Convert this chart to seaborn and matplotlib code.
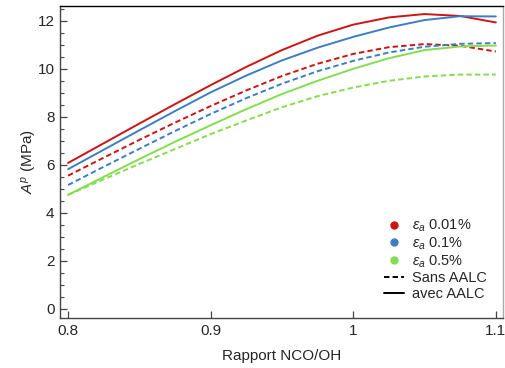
import matplotlib
matplotlib.use("Agg")
import matplotlib.pyplot as plt
import seaborn as sns
import pandas as pd
from matplotlib.lines import Line2D
from matplotlib.ticker import MultipleLocator

# ---- data ----
ratio = [0.800, 0.825, 0.850, 0.875, 0.900, 0.925, 0.950, 0.975, 1.000, 1.025, 1.050, 1.075, 1.100]

red_avec  = [6.08, 6.90, 7.72, 8.53, 9.32, 10.08, 10.78, 11.38, 11.84, 12.14, 12.28, 12.20, 11.93]
blue_avec = [5.82, 6.63, 7.44, 8.24, 9.02, 9.72, 10.35, 10.88, 11.33, 11.72, 12.03, 12.19, 12.18]
green_avec = [4.75, 5.50, 6.24, 6.96, 7.65, 8.32, 8.95, 9.50, 10.00, 10.44, 10.78, 10.93, 10.97]

red_sans  = [5.55, 6.30, 7.04, 7.76, 8.45, 9.10, 9.70, 10.21, 10.62, 10.90, 11.03, 10.96, 10.72]
blue_sans = [5.16, 5.92, 6.67, 7.41, 8.12, 8.78, 9.38, 9.90, 10.33, 10.68, 10.92, 11.04, 11.07]
green_sans = [4.75, 5.40, 6.04, 6.66, 7.28, 7.85, 8.40, 8.86, 9.22, 9.50, 9.68, 9.76, 9.76]

strains = ["0.01%", "0.1%", "0.5%"]
conditions = ["Sans AALC", "avec AALC"]
xticks = [0.8, 0.9, 1.0, 1.1]
xtick_labels = ["0.8", "0.9", "1", "1.1"]

colors = {"0.01%": "#CC1414", "0.1%": "#3D7EC2", "0.5%": "#84DC50"}

series = {
    ("0.01%", "avec AALC"): red_avec,
    ("0.1%", "avec AALC"): blue_avec,
    ("0.5%", "avec AALC"): green_avec,
    ("0.01%", "Sans AALC"): red_sans,
    ("0.1%", "Sans AALC"): blue_sans,
    ("0.5%", "Sans AALC"): green_sans,
}

rows = []
for (s, c), vals in series.items():
    for x, v in zip(ratio, vals):
        rows.append({"ratio": x, "A": v, "strain": s, "cond": c})
df = pd.DataFrame(rows)

# ---- style ----
sns.set_theme(style="ticks")
plt.rcParams["font.family"] = ["Liberation Sans", "DejaVu Sans"]
plt.rcParams["mathtext.fontset"] = "custom"
plt.rcParams["mathtext.rm"] = "Liberation Sans"
plt.rcParams["mathtext.it"] = "Liberation Sans:italic"

fig = plt.figure(figsize=(5.05, 3.68), dpi=100)
ax = fig.add_axes([0.119, 0.136, 0.877, 0.848])

sns.lineplot(data=df, x="ratio", y="A", hue="strain", style="cond",
             hue_order=strains, style_order=conditions,
             palette=colors,
             dashes={"Sans AALC": (2.8, 1.6), "avec AALC": ""},
             linewidth=1.4, ax=ax, legend=False, sort=True)

ax.set_xlim(0.7944, 1.105)
ax.set_ylim(-0.375, 12.62)
ax.set_xticks(xticks)
ax.set_xticklabels(xtick_labels)
ax.yaxis.set_major_locator(MultipleLocator(2))
ax.yaxis.set_minor_locator(MultipleLocator(0.5))
ax.tick_params(axis="both", which="major", direction="in", length=5,
               width=0.9, color="#444444", labelsize=11, pad=4)
ax.tick_params(axis="y", which="minor", direction="in", length=3,
               width=0.8, color="#444444")
ax.set_xlabel("Rapport NCO/OH", fontsize=11, labelpad=8)
ax.set_ylabel(r"$A^p$ (MPa)", fontsize=11, labelpad=-1)

for sp in ["left", "bottom"]:
    ax.spines[sp].set_color("#444444")
    ax.spines[sp].set_linewidth(1.0)
ax.spines["top"].set_color("black")
ax.spines["top"].set_linewidth(1.0)
ax.spines["right"].set_color("#AAAAAA")
ax.spines["right"].set_linewidth(1.0)

handles = [Line2D([], [], marker="o", linestyle="none", markersize=5,
                  color=colors[s]) for s in strains]
handles += [Line2D([], [], color="black", linewidth=1.4, dashes=(2.8, 1.6)),
            Line2D([], [], color="black", linewidth=1.4)]
labels = [r"$\epsilon_a$ " + s for s in strains]
labels += conditions
ax.legend(handles, labels, loc="upper left", bbox_to_anchor=(0.718, 0.34),
          frameon=False, fontsize=10.5, handlelength=1.4, handletextpad=0.5,
          labelspacing=0.1, borderaxespad=0)

fig.savefig("out.png", dpi=100)
